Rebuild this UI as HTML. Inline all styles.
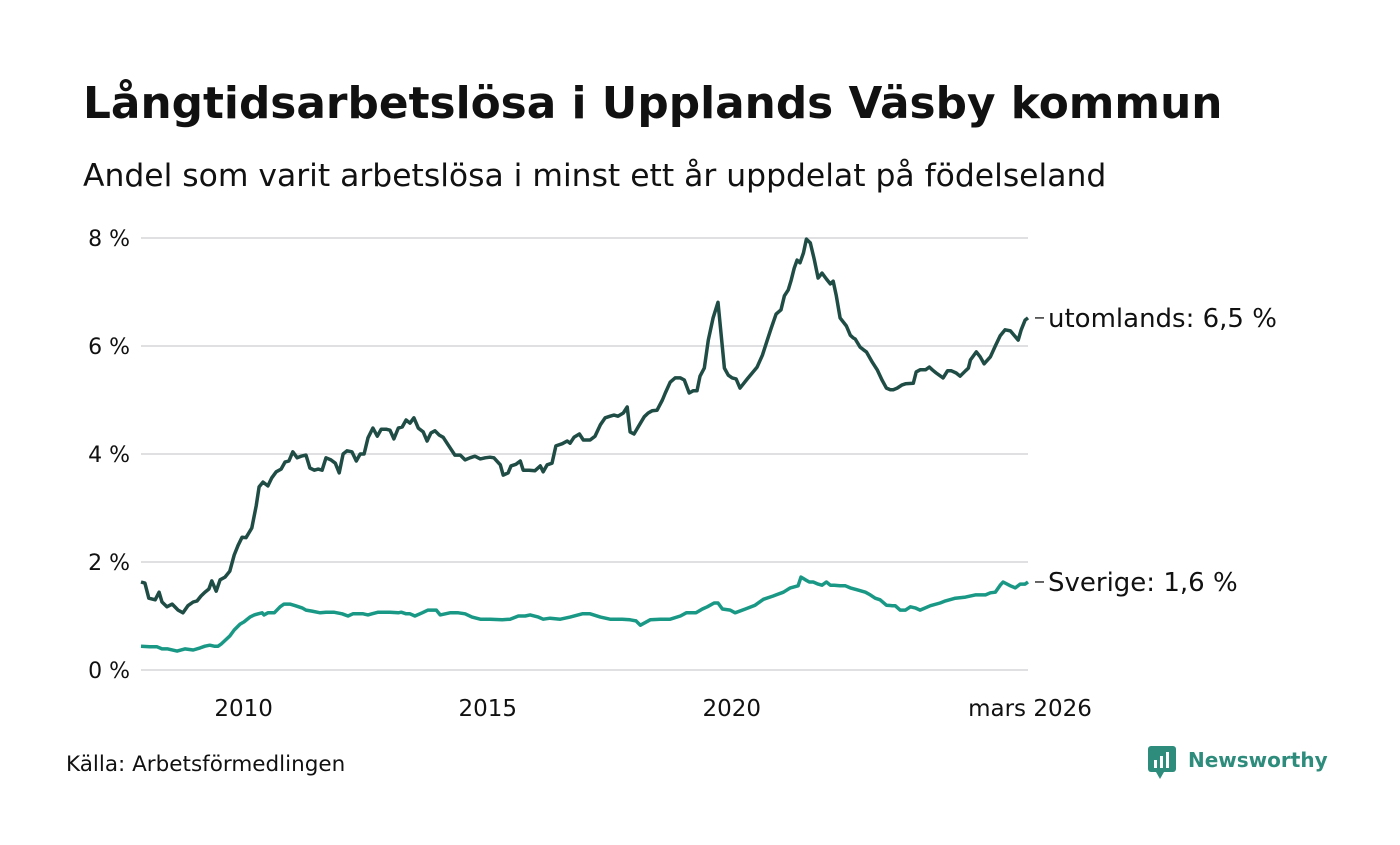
<!DOCTYPE html>
<html><head><meta charset="utf-8"><style>
body{margin:0;background:#fff;width:1400px;height:840px;overflow:hidden;font-family:"Liberation Sans","DejaVu Sans",sans-serif;}
svg text{font-family:"DejaVu Sans","Liberation Sans",sans-serif;}
</style></head><body>
<svg width="1400" height="840">
<text x="83" y="118" font-size="43.8" font-weight="bold" fill="#111">Långtidsarbetslösa i Upplands Väsby kommun</text>
<text x="83" y="186" font-size="31.4" fill="#111">Andel som varit arbetslösa i minst ett år uppdelat på födelseland</text>
<g id="grid"></g><g id="lines"></g><g id="labels"></g>
<text x="66" y="771" font-size="21.5" fill="#111">Källa: Arbetsförmedlingen</text>
<g>
<rect x="1148" y="746" width="28" height="26" rx="3" fill="#2e8c7c"/>
<polygon points="1156,772 1164,772 1160,779" fill="#2e8c7c"/>
<rect x="1154" y="760" width="3" height="8" fill="#fff"/><rect x="1160" y="756" width="3" height="12" fill="#fff"/><rect x="1166" y="752" width="3" height="16" fill="#fff"/>
<text x="1188" y="767" font-size="20" font-weight="bold" fill="#2e8c7c">Newsworthy</text>
</g>
</svg>
<script>
const yTicks=[0,2,4,6,8];
const xTickYears=[2010,2015,2020];
const utDates=[2008.00,2008.08,2008.16,2008.29,2008.37,2008.43,2008.53,2008.64,2008.76,2008.86,2008.96,2009.07,2009.15,2009.23,2009.31,2009.39,2009.45,2009.54,2009.62,2009.72,2009.82,2009.91,2009.99,2010.07,2010.15,2010.27,2010.36,2010.42,2010.50,2010.60,2010.68,2010.77,2010.87,2010.95,2011.03,2011.11,2011.20,2011.28,2011.38,2011.46,2011.55,2011.63,2011.71,2011.79,2011.89,2011.98,2012.06,2012.14,2012.22,2012.32,2012.41,2012.49,2012.57,2012.65,2012.75,2012.84,2012.92,2013.02,2013.10,2013.18,2013.27,2013.35,2013.43,2013.51,2013.59,2013.68,2013.78,2013.86,2013.94,2014.02,2014.11,2014.19,2014.29,2014.43,2014.54,2014.64,2014.74,2014.84,2014.95,2015.05,2015.15,2015.23,2015.36,2015.42,2015.52,2015.58,2015.68,2015.77,2015.83,2015.95,2016.07,2016.18,2016.24,2016.32,2016.42,2016.50,2016.63,2016.73,2016.79,2016.87,2016.98,2017.06,2017.20,2017.30,2017.41,2017.51,2017.61,2017.69,2017.77,2017.88,2017.96,2018.02,2018.10,2018.23,2018.31,2018.39,2018.47,2018.57,2018.68,2018.74,2018.84,2018.94,2019.05,2019.13,2019.23,2019.31,2019.39,2019.45,2019.54,2019.62,2019.72,2019.82,2019.95,2020.03,2020.11,2020.19,2020.27,2020.34,2020.42,2020.52,2020.62,2020.73,2020.83,2020.91,2021.01,2021.11,2021.18,2021.26,2021.32,2021.38,2021.44,2021.50,2021.57,2021.63,2021.71,2021.79,2021.87,2021.95,2022.04,2022.12,2022.18,2022.24,2022.32,2022.45,2022.53,2022.59,2022.63,2022.73,2022.80,2022.86,2022.98,2023.08,2023.18,2023.27,2023.35,2023.41,2023.49,2023.59,2023.66,2023.82,2023.88,2023.96,2024.07,2024.15,2024.21,2024.29,2024.43,2024.52,2024.60,2024.70,2024.78,2024.89,2024.95,2024.99,2025.11,2025.19,2025.27,2025.40,2025.50,2025.60,2025.70,2025.81,2025.97,2026.03,2026.11,2026.17];
const utValues=[1.63,1.61,1.33,1.30,1.44,1.26,1.17,1.22,1.11,1.06,1.19,1.26,1.28,1.37,1.44,1.50,1.65,1.46,1.67,1.72,1.83,2.13,2.31,2.46,2.45,2.63,3.04,3.39,3.48,3.41,3.56,3.67,3.72,3.85,3.87,4.04,3.93,3.96,3.98,3.74,3.70,3.72,3.70,3.93,3.89,3.83,3.65,4.00,4.06,4.04,3.87,4.00,4.00,4.30,4.48,4.33,4.46,4.46,4.44,4.28,4.48,4.50,4.63,4.57,4.67,4.48,4.41,4.24,4.39,4.43,4.35,4.31,4.17,3.98,3.98,3.89,3.93,3.96,3.91,3.93,3.94,3.93,3.80,3.61,3.65,3.78,3.81,3.87,3.70,3.70,3.69,3.78,3.67,3.80,3.83,4.15,4.19,4.24,4.20,4.31,4.37,4.26,4.26,4.33,4.54,4.67,4.70,4.72,4.70,4.76,4.87,4.41,4.37,4.57,4.69,4.76,4.80,4.81,5.00,5.13,5.33,5.41,5.41,5.37,5.13,5.17,5.17,5.44,5.59,6.11,6.52,6.81,5.59,5.46,5.41,5.39,5.22,5.30,5.39,5.50,5.61,5.83,6.11,6.33,6.59,6.67,6.93,7.04,7.22,7.44,7.59,7.54,7.72,7.98,7.91,7.61,7.26,7.35,7.24,7.15,7.20,6.94,6.52,6.37,6.20,6.15,6.13,5.98,5.93,5.89,5.70,5.56,5.37,5.22,5.19,5.19,5.22,5.28,5.30,5.31,5.52,5.56,5.56,5.61,5.56,5.50,5.41,5.54,5.54,5.50,5.44,5.54,5.59,5.74,5.89,5.80,5.67,5.80,6.00,6.19,6.30,6.28,6.11,6.30,6.48,6.52];
const seDates=[2008.00,2008.18,2008.33,2008.43,2008.55,2008.74,2008.90,2009.07,2009.21,2009.31,2009.41,2009.50,2009.58,2009.64,2009.82,2009.91,2010.03,2010.11,2010.23,2010.32,2010.40,2010.48,2010.52,2010.60,2010.73,2010.85,2010.93,2011.05,2011.16,2011.30,2011.38,2011.50,2011.67,2011.79,2011.95,2012.12,2012.24,2012.34,2012.47,2012.55,2012.65,2012.73,2012.86,2013.10,2013.27,2013.33,2013.43,2013.51,2013.61,2013.76,2013.88,2014.05,2014.13,2014.33,2014.50,2014.64,2014.78,2014.95,2015.15,2015.40,2015.56,2015.73,2015.87,2015.97,2016.14,2016.24,2016.38,2016.59,2016.79,2017.04,2017.20,2017.41,2017.61,2017.86,2018.02,2018.14,2018.23,2018.43,2018.64,2018.84,2019.05,2019.17,2019.37,2019.50,2019.60,2019.74,2019.82,2019.91,2020.07,2020.17,2020.38,2020.58,2020.75,2020.95,2021.01,2021.16,2021.30,2021.46,2021.52,2021.61,2021.69,2021.77,2021.87,2021.95,2022.04,2022.12,2022.20,2022.32,2022.43,2022.53,2022.69,2022.84,2022.94,2023.04,2023.14,2023.27,2023.39,2023.45,2023.55,2023.66,2023.76,2023.86,2023.96,2024.17,2024.37,2024.48,2024.68,2024.89,2025.09,2025.30,2025.40,2025.50,2025.60,2025.66,2025.81,2025.91,2026.01,2026.11,2026.17];
const seValues=[0.44,0.43,0.43,0.39,0.39,0.35,0.39,0.37,0.41,0.44,0.46,0.44,0.44,0.48,0.63,0.74,0.85,0.89,0.98,1.02,1.04,1.06,1.02,1.06,1.06,1.17,1.22,1.22,1.19,1.15,1.11,1.09,1.06,1.07,1.07,1.04,1.00,1.04,1.04,1.04,1.02,1.04,1.07,1.07,1.06,1.07,1.04,1.04,1.00,1.06,1.11,1.11,1.02,1.06,1.06,1.04,0.98,0.94,0.94,0.93,0.94,1.00,1.00,1.02,0.98,0.94,0.96,0.94,0.98,1.04,1.04,0.98,0.94,0.94,0.93,0.91,0.83,0.93,0.94,0.94,1.00,1.06,1.06,1.13,1.17,1.24,1.24,1.13,1.11,1.06,1.13,1.20,1.31,1.37,1.39,1.44,1.52,1.56,1.72,1.67,1.63,1.63,1.59,1.57,1.63,1.57,1.57,1.56,1.56,1.52,1.48,1.44,1.39,1.33,1.30,1.20,1.19,1.19,1.11,1.11,1.17,1.15,1.11,1.19,1.24,1.28,1.33,1.35,1.39,1.39,1.43,1.44,1.57,1.63,1.56,1.52,1.59,1.59,1.63];
const seriesNames=["utomlands","Sverige"];
const NS="http://www.w3.org/2000/svg";
const X0=141,X1=1028,T0=2008.0,T1=2026.17;
const xs=t=>X0+(t-T0)*(X1-X0)/(T1-T0);
const ys=v=>670-v*54;
function mk(tag,attrs,parent){const e=document.createElementNS(NS,tag);for(const k in attrs)e.setAttribute(k,attrs[k]);parent.appendChild(e);return e;}
const grid=document.getElementById('grid'),lines=document.getElementById('lines'),labels=document.getElementById('labels');
yTicks.forEach(v=>{
  const l=mk('line',{x1:X0,x2:X1,y1:ys(v),y2:ys(v),stroke:'#e0e0e3','stroke-width':2},grid);
  
  
  const t=mk('text',{x:130,y:ys(v)+8,'font-size':22,fill:'#111','text-anchor':'end'},grid);
  t.textContent=v+' %';
  
  
});
xTickYears.forEach(yr=>{
  const t=mk('text',{x:xs(yr)+5,y:716,'font-size':23,fill:'#111','text-anchor':'middle'},grid);
  t.textContent=String(yr);
  
  
});
const lt=mk('text',{x:X1+2,y:716,'font-size':23,fill:'#111','text-anchor':'middle'},grid);
lt.textContent='mars 2026';


function draw(dates,vals,color,name){
  const p=mk('polyline',{points:dates.map((d,i)=>xs(d).toFixed(1)+','+ys(vals[i]).toFixed(1)).join(' '),fill:'none',stroke:color,'stroke-width':3.5,'stroke-linejoin':'round'},lines);
  
  
  const lv=vals[vals.length-1],ly=ys(lv);
  const d=mk('line',{x1:1035,x2:1044,y1:ly,y2:ly,stroke:'#333','stroke-width':1.5},labels);
  
  
  const t=mk('text',{x:1048,y:ly+9,'font-size':26,fill:'#111'},labels);
  t.textContent=name+': '+lv.toFixed(1).replace('.',',')+' %';
  
  
}
draw(seDates,seValues,'#1a9886',seriesNames[1]);
draw(utDates,utValues,'#1f4d45',seriesNames[0]);
</script>
</body></html>
